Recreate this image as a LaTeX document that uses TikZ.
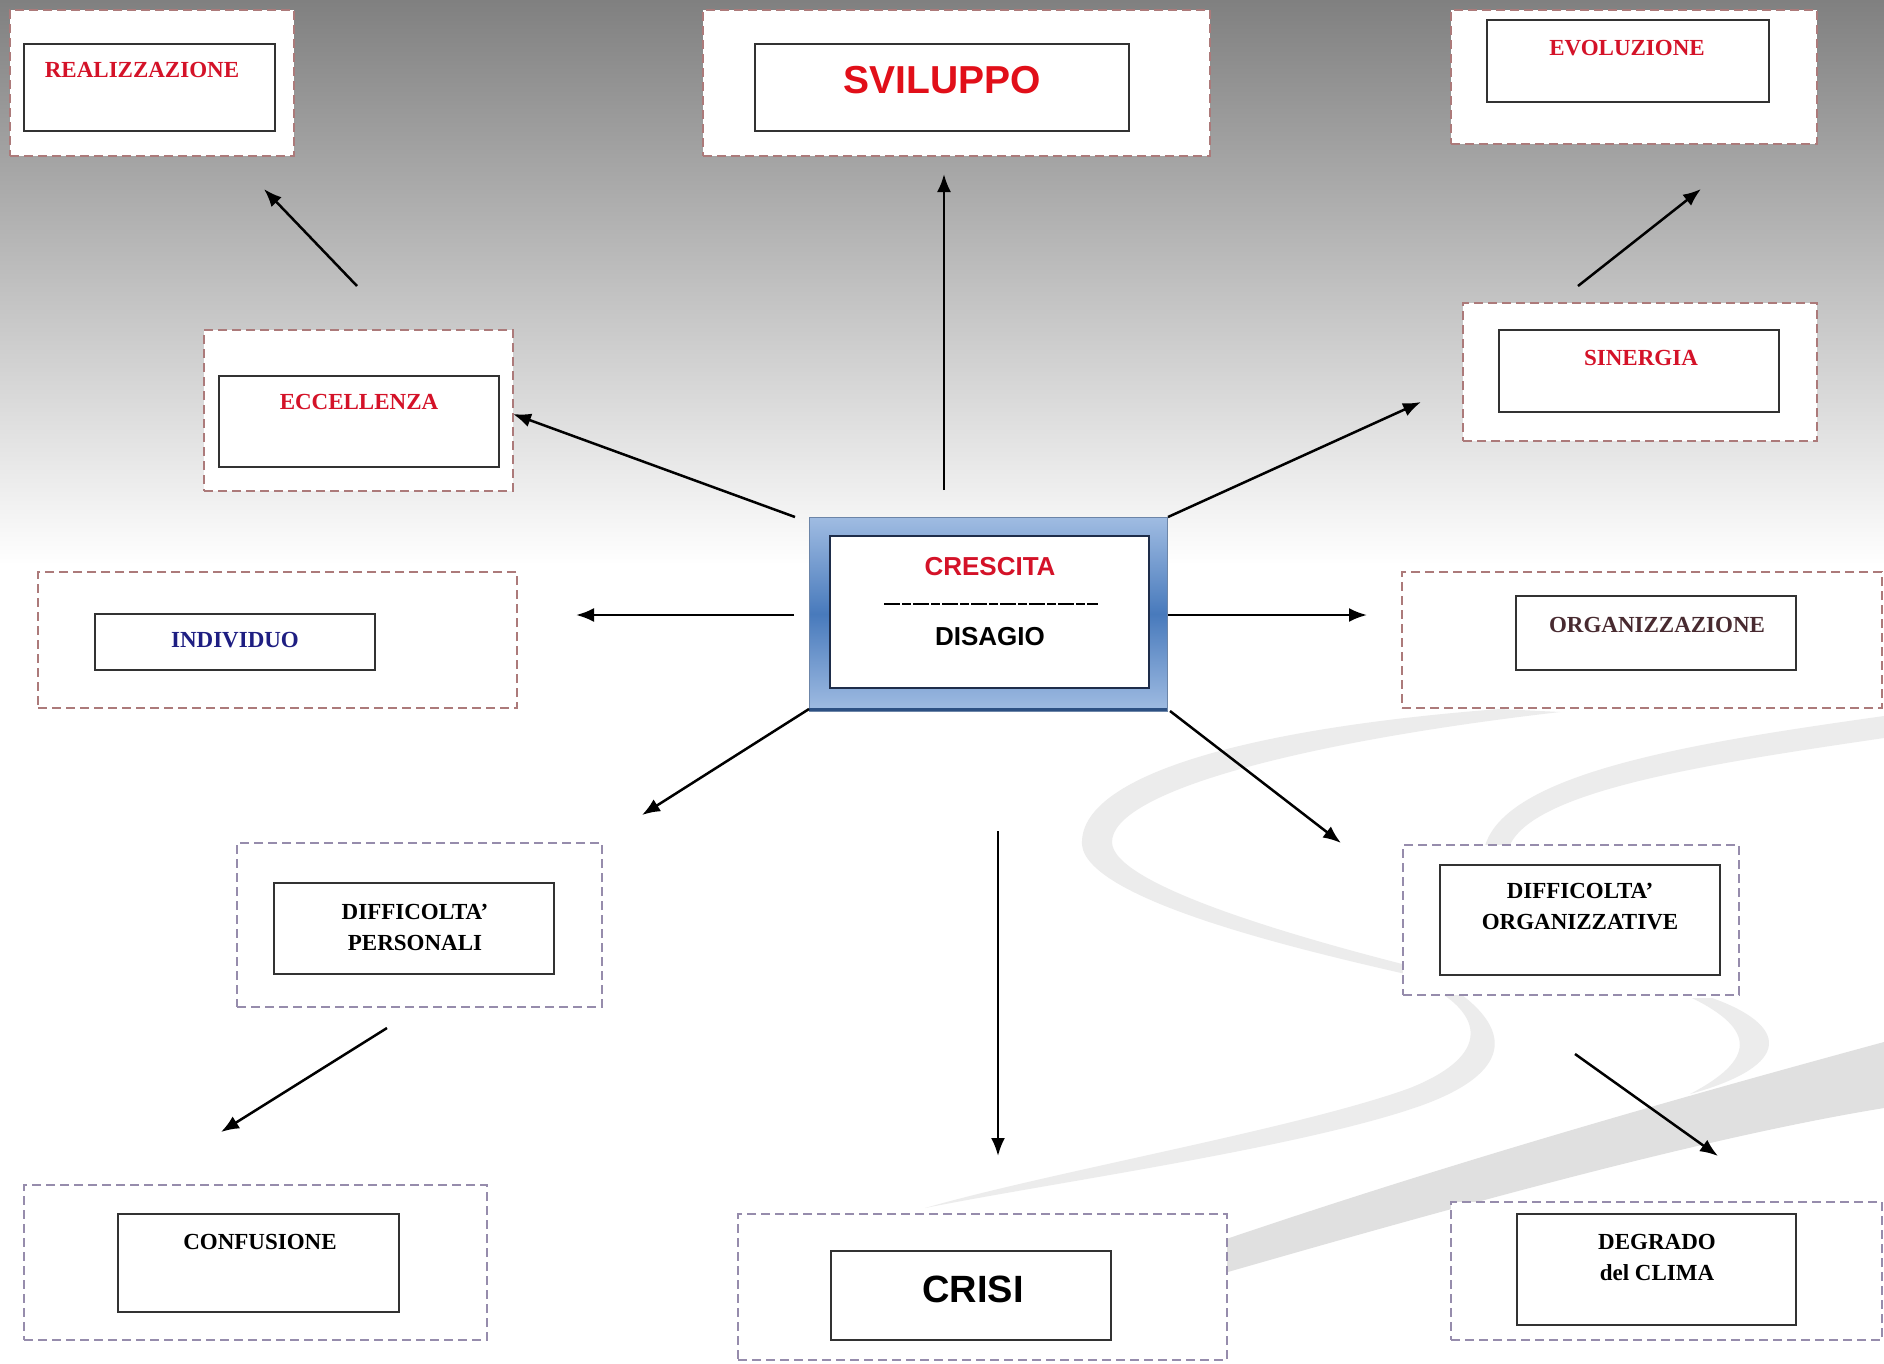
\documentclass[tikz,border=0pt]{standalone}
\usepackage{fontspec}
\newfontfamily\tnr{Liberation Serif}
\newfontfamily\arl{Liberation Sans}
\usetikzlibrary{arrows.meta}
\definecolor{bgtop}{RGB}{128,128,128}
\definecolor{txtred}{RGB}{212,18,40}
\definecolor{svred}{RGB}{225,15,25}
\definecolor{navytxt}{RGB}{30,30,130}
\definecolor{orgtxt}{RGB}{72,42,48}
\definecolor{dashR}{RGB}{172,122,122}
\definecolor{dashP}{RGB}{150,140,172}
\definecolor{framec}{RGB}{50,50,50}
\definecolor{blueL}{RGB}{160,188,226}
\definecolor{blueD}{RGB}{72,122,188}
\definecolor{blueE}{RGB}{45,80,130}
\definecolor{innerE}{RGB}{30,45,74}
\definecolor{swirlc}{RGB}{236,236,236}
\definecolor{swirld}{RGB}{224,224,224}
\begin{document}
\begin{tikzpicture}[x=1pt,y=-1pt,
  outerR/.style={draw=dashR, line width=2pt, dash pattern=on 9pt off 5pt, fill=white, inner sep=0pt, rectangle},
  outerP/.style={draw=dashP, line width=2pt, dash pattern=on 9pt off 5pt, fill=white, inner sep=0pt, rectangle},
  innerbox/.style={draw=framec, line width=2pt, fill=white, inner sep=0pt, rectangle},
  seriftxt/.style={font=\tnr\bfseries\fontsize{23}{31}\selectfont, inner sep=0pt, align=center},
  sanstxt/.style={font=\arl\bfseries, inner sep=0pt},
  arr/.style={line width=2.5pt, draw=black, -{Latex[length=18pt,width=14pt]}}
]
\useasboundingbox (0,0) rectangle (1884,1363);
% background
\fill[white] (0,0) rectangle (1884,1363);
\shade[top color=bgtop, bottom color=white] (0,0) rectangle (1884,565);

% swirls
\fill[swirlc] (1500,709) .. controls (1250,728) and (1078,775) .. (1082,845)
  .. controls (1088,900) and (1300,950) .. (1410,975) -- (1410,966)
  .. controls (1300,938) and (1112,885) .. (1112,842)
  .. controls (1112,792) and (1300,742) .. (1560,712) -- cycle;
\fill[swirlc] (1884,716) .. controls (1700,742) and (1500,772) .. (1484,850)
  -- (1508,850) .. controls (1525,792) and (1700,765) .. (1884,738) -- cycle;
\fill[swirlc] (1462,995) .. controls (1508,1030) and (1515,1072) .. (1420,1106)
  .. controls (1300,1148) and (1050,1183) .. (925,1208)
  .. controls (1050,1172) and (1300,1128) .. (1410,1088)
  .. controls (1485,1058) and (1483,1022) .. (1444,995) -- cycle;
\fill[swirlc] (1712,998) .. controls (1788,1025) and (1795,1065) .. (1690,1094)
  .. controls (1755,1060) and (1757,1030) .. (1692,998) -- cycle;
\fill[swirld] (1884,1042) .. controls (1700,1092) and (1450,1162) .. (1200,1248)
  -- (1200,1280) .. controls (1450,1208) and (1700,1138) .. (1884,1108) -- cycle;

% outer dashed boxes
\node[outerR, minimum width=284pt, minimum height=146pt] (realO) at (152,83) {};
\node[outerR, minimum width=507pt, minimum height=146pt] (svilO) at (956.5,83) {};
\node[outerR, minimum width=366pt, minimum height=134pt] (evolO) at (1634,77) {};
\node[outerR, minimum width=309pt, minimum height=161pt] (eccO) at (358.5,410.5) {};
\node[outerR, minimum width=354pt, minimum height=138pt] (sinO) at (1640,372) {};
\node[outerR, minimum width=479pt, minimum height=136pt] (indO) at (277.5,640) {};
\node[outerR, minimum width=480pt, minimum height=136pt] (orgO) at (1642,640) {};
\node[outerP, minimum width=365pt, minimum height=164pt] (dpO) at (419.5,925) {};
\node[outerP, minimum width=336pt, minimum height=150pt] (doO) at (1571,920) {};
\node[outerP, minimum width=463pt, minimum height=155pt] (confO) at (255.5,1262.5) {};
\node[outerP, minimum width=489pt, minimum height=146pt] (crisiO) at (982.5,1287) {};
\node[outerP, minimum width=431pt, minimum height=138pt] (degrO) at (1666.5,1271) {};

% inner boxes
\node[innerbox, minimum width=251pt, minimum height=87pt] (realI) at (149.5,87.5) {};
\node[innerbox, minimum width=374pt, minimum height=87pt] (svilI) at (942,87.5) {};
\node[innerbox, minimum width=282pt, minimum height=82pt] (evolI) at (1628,61) {};
\node[innerbox, minimum width=280pt, minimum height=91pt] (eccI) at (359,421.5) {};
\node[innerbox, minimum width=280pt, minimum height=82pt] (sinI) at (1639,371) {};
\node[innerbox, minimum width=280pt, minimum height=56pt] (indI) at (235,642) {};
\node[innerbox, minimum width=280pt, minimum height=74pt] (orgI) at (1656,633) {};
\node[innerbox, minimum width=280pt, minimum height=91pt] (dpI) at (414,928.5) {};
\node[innerbox, minimum width=280pt, minimum height=110pt] (doI) at (1580,920) {};
\node[innerbox, minimum width=281pt, minimum height=98pt] (confI) at (258.5,1263) {};
\node[innerbox, minimum width=280pt, minimum height=89pt] (crisiI) at (971,1295.5) {};
\node[innerbox, minimum width=279pt, minimum height=111pt] (degrI) at (1656.5,1269.5) {};

% texts
\node[seriftxt, text=txtred] (realT) at (142,70) {REALIZZAZIONE};
\node[sanstxt, text=svred, font=\arl\bfseries\fontsize{39}{44}\selectfont] (svilT) at (942,80) {SVILUPPO};
\node[seriftxt, text=txtred] (evolT) at (1627,48) {EVOLUZIONE};
\node[seriftxt, text=txtred] (eccT) at (359,402) {ECCELLENZA};
\node[seriftxt, text=txtred] (sinT) at (1641,358) {SINERGIA};
\node[seriftxt, text=navytxt] (indT) at (235,640) {INDIVIDUO};
\node[seriftxt, text=orgtxt] (orgT) at (1657,625) {ORGANIZZAZIONE};
\node[seriftxt, text=black] (dpT) at (415,927) {DIFFICOLTA’\\PERSONALI};
\node[seriftxt, text=black] (doT) at (1580,906.5) {DIFFICOLTA’\\ORGANIZZATIVE};
\node[seriftxt, text=black] (confT) at (260,1242) {CONFUSIONE};
\node[sanstxt, text=black, font=\arl\bfseries\fontsize{38}{44}\selectfont] (crisiT) at (973,1289) {CRISI};
\node[seriftxt, text=black] (degrT) at (1657,1257) {DEGRADO\\del CLIMA};

% central box
\shade[top color=blueL, bottom color=blueL, middle color=blueD] (809,517) rectangle (1167,711);
\draw[blueE!70, line width=1pt] (809,517) rectangle (1167,711);
\draw[blueE, line width=3pt] (809,709.5) -- (1167,709.5);
\node[draw=innerE, line width=2.5pt, fill=white, rectangle, inner sep=0pt,
      minimum width=319pt, minimum height=152pt] (centI) at (989.5,612) {};
\node[sanstxt, text=txtred, font=\arl\bfseries\fontsize{26}{30}\selectfont] (cresT) at (990,567) {CRESCITA};
\node[sanstxt, text=black, font=\arl\bfseries\fontsize{26}{30}\selectfont] (disT) at (990,637) {DISAGIO};
\coordinate (sepL) at (884,604);
\coordinate (sepR) at (1098,604);
\draw[line width=2pt, dash pattern=on 16pt off 2pt on 9pt off 2pt] (sepL) -- (sepR);

% arrow end points
\coordinate (a1s) at (357,286);  \coordinate (a1e) at (264,189);
\coordinate (a2s) at (944,490);  \coordinate (a2e) at (944,174);
\coordinate (a3s) at (1578,286); \coordinate (a3e) at (1701,189);
\coordinate (a4s) at (795,517);  \coordinate (a4e) at (513,414);
\coordinate (a5s) at (1168,517); \coordinate (a5e) at (1421,402);
\coordinate (a6s) at (794,615);  \coordinate (a6e) at (576,615);
\coordinate (a7s) at (1168,615); \coordinate (a7e) at (1367,615);
\coordinate (a8s) at (809,709);  \coordinate (a8e) at (642,815);
\coordinate (a9s) at (1170,711); \coordinate (a9e) at (1341,843);
\coordinate (a10s) at (998,831); \coordinate (a10e) at (998,1156);
\coordinate (a11s) at (387,1028); \coordinate (a11e) at (221,1132);
\coordinate (a12s) at (1575,1054); \coordinate (a12e) at (1718,1156);

\draw[arr] (a1s) -- (a1e);
\draw[arr] (a2s) -- (a2e);
\draw[arr] (a3s) -- (a3e);
\draw[arr] (a4s) -- (a4e);
\draw[arr] (a5s) -- (a5e);
\draw[arr] (a6s) -- (a6e);
\draw[arr] (a7s) -- (a7e);
\draw[arr] (a8s) -- (a8e);
\draw[arr] (a9s) -- (a9e);
\draw[arr] (a10s) -- (a10e);
\draw[arr] (a11s) -- (a11e);
\draw[arr] (a12s) -- (a12e);
\end{tikzpicture}
\end{document}
